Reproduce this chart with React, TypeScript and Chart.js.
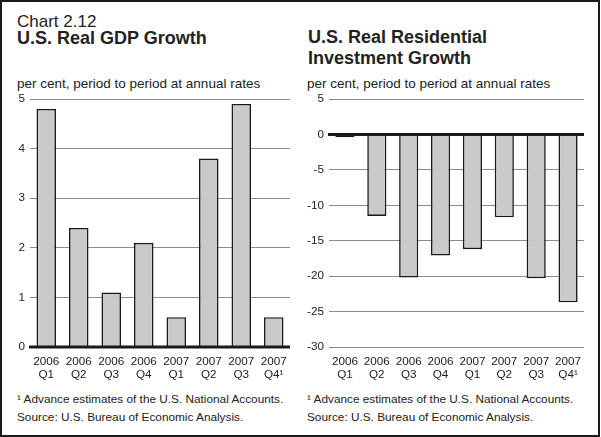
import React, { useEffect, useRef } from "react";
import { Chart, registerables } from "chart.js";

Chart.register(...registerables);

// ---------- data ----------
const categories: string[][] = [
  ["2006", "Q1"], ["2006", "Q2"], ["2006", "Q3"], ["2006", "Q4"],
  ["2007", "Q1"], ["2007", "Q2"], ["2007", "Q3"], ["2007", "Q4¹"],
];
const gdpGrowth = [4.8, 2.4, 1.1, 2.1, 0.6, 3.8, 4.9, 0.6];
const residentialGrowth = [-0.4, -11.5, -20.2, -17.1, -16.2, -11.7, -20.3, -23.7];
const gdpTickValues = [0, 1, 2, 3, 4, 5];
const residentialTickValues = [-30, -25, -20, -15, -10, -5, 0, 5];

const chartLabel = "Chart 2.12";
const leftTitle = ["U.S. Real GDP Growth"];
const rightTitle = ["U.S. Real Residential", "Investment Growth"];
const unitsNote = "per cent, period to period at annual rates";
const footnote = "¹ Advance estimates of the U.S. National Accounts.";
const sourceNote = "Source: U.S. Bureau of Economic Analysis.";

// ---------- style ----------
const FONT = "'Liberation Sans', Arial, Helvetica, sans-serif";
const INK = "#222222";
const BAR_FILL = "#c9cacc";
const BAR_EDGE = "#1a1a1a";
const GRID = "#8c8c8c";

const zeroLinePlugin = {
  id: "zeroLine",
  afterDatasetsDraw(chart: any) {
    const y = chart.scales.y;
    const { left, right } = chart.chartArea;
    const py = y.getPixelForValue(0);
    const ctx = chart.ctx;
    ctx.save();
    ctx.strokeStyle = "#1a1a1a";
    ctx.lineWidth = 3;
    ctx.beginPath();
    ctx.moveTo(left - 1, py);
    ctx.lineTo(right, py);
    ctx.stroke();
    ctx.restore();
  },
};

type PanelProps = {
  values: number[];
  tickValues: number[];
  left: number;
  width: number;
  axisWidth: number;
  padRight: number;
};

function BarPanel({ values, tickValues, left, width, axisWidth, padRight }: PanelProps) {
  const ref = useRef<HTMLCanvasElement>(null);
  useEffect(() => {
    const min = Math.min(...tickValues);
    const max = Math.max(...tickValues);
    const step = tickValues[1] - tickValues[0];
    const chart = new Chart(ref.current as HTMLCanvasElement, {
      type: "bar",
      data: {
        labels: categories,
        datasets: [
          {
            data: values,
            backgroundColor: BAR_FILL,
            borderColor: BAR_EDGE,
            borderWidth: 1.6,
            borderSkipped: "start",
            categoryPercentage: 1,
            barPercentage: 0.6,
          },
        ],
      },
      options: {
        responsive: false,
        animation: false,
        devicePixelRatio: 1,
        layout: { padding: { top: 14, right: padRight, bottom: 0, left: 0 } },
        plugins: { legend: { display: false }, tooltip: { enabled: false } },
        scales: {
          x: {
            grid: { display: false, drawTicks: false },
            border: { display: false },
            ticks: {
              color: INK,
              font: { family: FONT, size: 11.7, lineHeight: 1.1 },
              padding: 8,
              maxRotation: 0,
              autoSkip: false,
            },
            afterFit: (s: any) => {
              s.height = 38;
            },
          },
          y: {
            min,
            max,
            grid: { color: GRID, lineWidth: 1, drawTicks: false },
            border: { display: false },
            ticks: {
              stepSize: step,
              color: INK,
              font: { family: FONT, size: 11.7 },
              padding: 5,
            },
            afterFit: (s: any) => {
              s.width = axisWidth;
            },
          },
        },
      },
      plugins: [zeroLinePlugin],
    });
    return () => chart.destroy();
  }, []);
  return (
    <canvas
      ref={ref}
      width={width}
      height={300}
      style={{ position: "absolute", left, top: 85, width, height: 300 }}
    />
  );
}

const textBase: React.CSSProperties = {
  position: "absolute",
  fontFamily: FONT,
  color: INK,
  whiteSpace: "nowrap",
  margin: 0,
};

export default function App() {
  return (
    <div
      style={{
        position: "absolute",
        left: 0,
        top: 0,
        width: 600,
        height: 437,
        boxSizing: "border-box",
        border: "2px solid #1a1a1a",
        background: "#ffffff",
        overflow: "hidden",
      }}
    >
      <div style={{ position: "absolute", left: -2, top: -2, width: 601, height: 437 }}>
        <div style={{ ...textBase, left: 17, top: 13, fontSize: 17, lineHeight: "17px" }}>{chartLabel}</div>
        <div style={{ ...textBase, left: 17, top: 27.8, fontSize: 18, lineHeight: "21px", fontWeight: 700 }}>
          {leftTitle.map((t) => (
            <div key={t}>{t}</div>
          ))}
        </div>
        <div style={{ ...textBase, left: 308, top: 27.3, fontSize: 18, lineHeight: "21px", fontWeight: 700 }}>
          {rightTitle.map((t) => (
            <div key={t}>{t}</div>
          ))}
        </div>
        <div style={{ ...textBase, left: 17, top: 76.6, fontSize: 13.5, lineHeight: "13.5px" }}>{unitsNote}</div>
        <div style={{ ...textBase, left: 307, top: 76.6, fontSize: 13.5, lineHeight: "13.5px" }}>{unitsNote}</div>

        <BarPanel values={gdpGrowth} tickValues={gdpTickValues} left={0} width={300} axisWidth={30} padRight={10} />
        <BarPanel values={residentialGrowth} tickValues={residentialTickValues} left={300} width={301} axisWidth={29} padRight={17} />

        <div style={{ ...textBase, left: 17, top: 390, fontSize: 11.8, lineHeight: "18px" }}>
          <div>{footnote}</div>
          <div>{sourceNote}</div>
        </div>
        <div style={{ ...textBase, left: 307, top: 390, fontSize: 11.8, lineHeight: "18px" }}>
          <div>{footnote}</div>
          <div>{sourceNote}</div>
        </div>
      </div>
    </div>
  );
}
